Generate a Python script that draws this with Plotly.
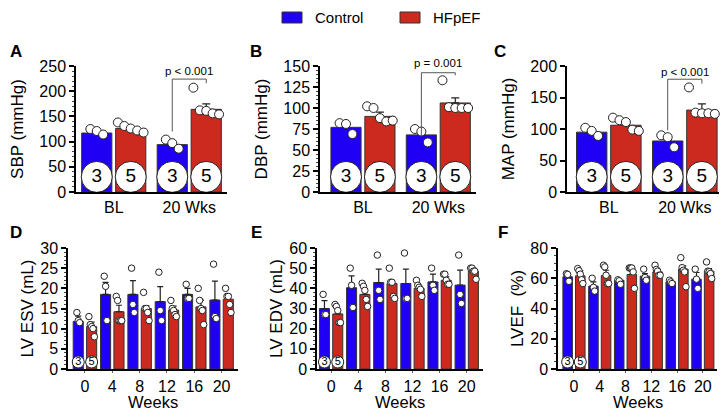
import numpy as np
import plotly.graph_objects as go

# page body has an 8px margin, so the figure is drawn 8px smaller and coords shifted
PAD = 8
W, H = 728 - PAD, 410 - PAD
CONTROL_COLOR = "#2000f5"
HFPEF_COLOR = "#cc2a1e"
FONT = "Liberation Sans, Arial, sans-serif"

# ---------------- data: blood pressure, BL vs 20 weeks ----------------
bp_groups = ["BL", "20 Wks"]
n_control, n_hfpef = 3, 5

sbp_ctrl_mean = [117, 94]
sbp_ctrl_sem = [5, 4]
sbp_hf_mean = [126, 164]
sbp_hf_sem = [4, 11]
sbp_ctrl_pts = [[125, 121, 114], [104, 97, 86]]
sbp_hf_pts = [[138, 131, 126, 122, 118], [207, 162, 161, 156, 154]]
sbp_bracket = [120, 224, 216]  # left end, top, right end
sbp_p = "p < 0.001"

dbp_ctrl_mean = [77, 68]
dbp_ctrl_sem = [3, 4]
dbp_hf_mean = [90, 106]
dbp_hf_sem = [5, 6]
dbp_ctrl_pts = [[82, 81, 69], [75, 72, 59]]
dbp_hf_pts = [[102, 100, 88, 84, 85], [133, 101, 100, 100, 100]]
dbp_bracket = [66, 142, 139]
dbp_p = "p = 0.001"

map_ctrl_mean = [95, 81]
map_ctrl_sem = [4, 6]
map_hf_mean = [106, 130]
map_hf_sem = [5, 10]
map_ctrl_pts = [[102, 97, 89], [90, 87, 71]]
map_hf_pts = [[118, 114, 111, 99, 97], [166, 126, 125, 125, 124]]
map_bracket = [98, 179, 172]
map_p = "p < 0.001"

# ---------------- data: echo, weeks 0-20 ----------------
weeks = ["0", "4", "8", "12", "16", "20"]

esv_ctrl_mean = [11.8, 18.5, 18.5, 16.7, 18.5, 17.1]
esv_ctrl_sem = [1.3, 3.0, 3.4, 3.7, 1.5, 4.7]
esv_hf_mean = [10.5, 14.2, 15.0, 14.6, 15.4, 17.3]
esv_hf_sem = [1.1, 1.6, 0.7, 1.0, 1.7, 1.2]
esv_ctrl_pts = [[14, 12, 11.5], [23, 20.5, 12], [25, 16, 14],
                [24, 14.5, 12], [21, 17.5, 17.5], [26, 13, 12.5]]
esv_hf_pts = [[13, 11, 10.5, 10, 8], [18, 17, 12, 12, 12], [19, 15, 15, 14, 12],
              [17, 15, 14.5, 13.5, 13], [20, 17, 15, 14.5, 11], [20, 18, 18, 16, 14]]

edv_ctrl_mean = [30, 40.3, 42.9, 42.4, 43.2, 41.6]
edv_ctrl_sem = [3.9, 5.9, 6.6, 7.1, 3.8, 7.4]
edv_hf_mean = [27.3, 37, 42.4, 40, 44, 48.5]
edv_hf_sem = [2.3, 2.6, 1.3, 1.0, 1.7, 1.5]
edv_ctrl_pts = [[37, 27, 27], [50, 41.5, 30.5], [56.5, 39, 34.5],
                [57.5, 35, 35], [50, 41.5, 39], [56.5, 37, 32.5]]
edv_hf_pts = [[32, 31, 29, 23, 23], [42.5, 41, 39, 34.5, 31], [50, 43, 43, 36, 35],
              [44, 41.5, 40.5, 39.5, 36], [47, 47, 44, 42, 42], [50, 50, 48.5, 48.5, 44.5]]

ef_ctrl_mean = [61, 54.8, 58.7, 61.4, 57.6, 59.4]
ef_ctrl_sem = [1.7, 2.8, 0.7, 1.6, 0.7, 4.4]
ef_hf_mean = [61.6, 61.8, 62.5, 64.2, 66, 64.7]
ef_hf_sem = [3.4, 3.5, 2.2, 1.8, 2.2, 1.7]
ef_ctrl_pts = [[63, 62.5, 58], [60, 54, 51.5], [59, 58.3, 56],
               [66, 60.5, 58.7], [58.7, 57.6, 56.5], [66, 59.4, 53.3]]
ef_hf_pts = [[66.4, 65, 62.7, 59, 56.5], [68.6, 67.5, 62, 56.5, 56.5], [66.8, 66.8, 66.8, 64.2, 53.3],
             [68.6, 65.8, 64.7, 62, 62], [73.6, 67, 65.3, 64.2, 54.4], [70.8, 64.7, 64.3, 63.1, 59.8]]


def fx(p):
    return (p - PAD) / W


def fy(p):
    return 1 - (p - PAD) / H


fig = go.Figure()
annotations = []
shapes = []


def add_panel(k, letter, letter_pos, xpx, ypx, xrange, ymax, dtick, minor, ytitle,
              cats, cm, cs, hm, hs, cp, hp, off, bw, dot, step, circ, circ_font,
              circ_frac, circ_cats, xtitle=None, standoff=12):
    xa = "x" if k == 1 else f"x{k}"
    ya = "y" if k == 1 else f"y{k}"
    idx = np.arange(len(cats))
    cap = 4 if bw > 0.38 else 3

    for means, sems, pts, color, name, sign in [
        (cm, cs, cp, CONTROL_COLOR, "Control", -1),
        (hm, hs, hp, HFPEF_COLOR, "HFpEF", 1),
    ]:
        xs = idx + sign * off
        fig.add_trace(go.Bar(
            x=xs, y=means, width=bw, name=name, showlegend=False,
            marker=dict(color=color, line=dict(color="#333333", width=1)),
            error_y=dict(type="data", symmetric=False, array=sems,
                         arrayminus=[0] * len(sems), color="#222222",
                         thickness=1.2, width=cap),
            xaxis=xa, yaxis=ya))
        dx, dy = [], []
        for xc, vals in zip(xs, pts):
            half = step * (len(vals) - 1) / 2
            offs = np.linspace(-half, half, len(vals))
            dx += list(xc + offs)
            dy += list(vals)
        fig.add_trace(go.Scatter(
            x=dx, y=dy, mode="markers", showlegend=False, cliponaxis=False,
            marker=dict(color="white", size=dot, line=dict(color="#222222", width=1)),
            xaxis=xa, yaxis=ya))
        nval = n_control if sign < 0 else n_hfpef
        fig.add_trace(go.Scatter(
            x=[xs[i] for i in circ_cats], y=[circ_frac * ymax] * len(circ_cats),
            mode="markers+text", text=[str(nval)] * len(circ_cats),
            textposition="middle center", showlegend=False,
            textfont=dict(family=FONT, size=circ_font, color="black"),
            marker=dict(color="white", size=circ, line=dict(color="#222222", width=1)),
            xaxis=xa, yaxis=ya))

    axis_common = dict(showline=True, linecolor="black", linewidth=1.5,
                       showgrid=False, zeroline=False, automargin=False,
                       tickfont=dict(family=FONT, size=16, color="black"))
    fig.layout[f"xaxis{'' if k == 1 else k}"] = dict(
        axis_common, domain=[fx(xpx[0]), fx(xpx[1])], range=xrange, anchor=ya,
        tickmode="array", tickvals=list(idx), ticktext=cats,
        ticks="outside" if xtitle else "", ticklen=2, tickwidth=1, tickcolor="#666666")
    fig.layout[f"yaxis{'' if k == 1 else k}"] = dict(
        axis_common, domain=[fy(ypx[1]), fy(ypx[0])], range=[0, ymax], anchor=xa,
        dtick=dtick, ticks="outside", ticklen=5, tickwidth=1.5, tickcolor="black",
        minor=dict(dtick=minor, ticks="outside", ticklen=2.5, tickwidth=1, tickcolor="#444444"),
        title=dict(text=ytitle, font=dict(family=FONT, size=17, color="black"),
                   standoff=standoff))
    if xtitle:
        # x title as an annotation: axis titles are squeezed inside the zero margin
        annotations.append(dict(text=xtitle, x=0.5, y=fy(402), xref=f"{xa} domain", yref="paper",
                                xanchor="center", yanchor="middle", showarrow=False,
                                font=dict(family=FONT, size=16.5, color="black")))
    annotations.append(dict(text=f"<b>{letter}</b>", x=fx(letter_pos[0]), y=fy(letter_pos[1]),
                            xref="paper", yref="paper", xanchor="left", yanchor="middle",
                            showarrow=False, font=dict(family=FONT, size=17, color="black")))
    return xa, ya


def add_bracket(xa, ya, off, ymax, br, ptext, ptext_y):
    x0, x1 = 1 - off, 1 + off
    shapes.append(dict(type="path", xref=xa, yref=ya,
                       path=f"M {x0},{br[0]} L {x0},{br[1]} L {x1},{br[1]} L {x1},{br[2]}",
                       line=dict(color="#555555", width=1)))
    annotations.append(dict(text=ptext, x=1, y=ptext_y / ymax, xref=xa, yref=f"{ya} domain",
                            xanchor="center", yanchor="middle", showarrow=False,
                            font=dict(family=FONT, size=11.5, color="black")))


top_y = (66, 192)
bot_y = (248, 369)

xa, ya = add_panel(1, "A", (8, 52), (76, 227), top_y, [-0.5, 1.5], 250, 50, 10, "SBP (mmHg)",
                   bp_groups, sbp_ctrl_mean, sbp_ctrl_sem, sbp_hf_mean, sbp_hf_sem,
                   sbp_ctrl_pts, sbp_hf_pts, 0.225, 0.4, 9, 0.085, 31, 19, 0.12, [0, 1],
                   standoff=11)
add_bracket(xa, ya, 0.225, 250, sbp_bracket, sbp_p, 241)

xa, ya = add_panel(2, "B", (248, 52), (320, 476), top_y, [-0.57, 1.5], 150, 25, 5, "DBP (mmHg)",
                   bp_groups, dbp_ctrl_mean, dbp_ctrl_sem, dbp_hf_mean, dbp_hf_sem,
                   dbp_ctrl_pts, dbp_hf_pts, 0.225, 0.4, 9, 0.085, 31, 19, 0.12, [0, 1],
                   standoff=11)
add_bracket(xa, ya, 0.225, 150, dbp_bracket, dbp_p, 153)

xa, ya = add_panel(3, "C", (492, 52), (567, 719), top_y, [-0.55, 1.45], 200, 50, 200, "MAP (mmHg)",
                   bp_groups, map_ctrl_mean, map_ctrl_sem, map_hf_mean, map_hf_sem,
                   map_ctrl_pts, map_hf_pts, 0.225, 0.4, 9, 0.085, 31, 19, 0.12, [0, 1],
                   standoff=11)
add_bracket(xa, ya, 0.225, 200, map_bracket, map_p, 190)

add_panel(4, "D", (8, 233), (68, 238), bot_y, [-0.62, 5.6], 30, 5, 1, "LV ESV (mL)",
          weeks, esv_ctrl_mean, esv_ctrl_sem, esv_hf_mean, esv_hf_sem,
          esv_ctrl_pts, esv_hf_pts, 0.245, 0.37, 6.5, 0.05, 12, 11, 0.058, [0],
          xtitle="Weeks", standoff=2)
add_panel(5, "E", (249, 233), (317, 483), bot_y, [-0.52, 5.6], 60, 10, 2, "LV EDV (mL)",
          weeks, edv_ctrl_mean, edv_ctrl_sem, edv_hf_mean, edv_hf_sem,
          edv_ctrl_pts, edv_hf_pts, 0.245, 0.37, 6.5, 0.05, 12, 11, 0.058, [0],
          xtitle="Weeks", standoff=2)
add_panel(6, "F", (496, 233), (558, 717), bot_y, [-0.62, 5.55], 80, 20, 5, "LVEF  (%)",
          weeks, ef_ctrl_mean, ef_ctrl_sem, ef_hf_mean, ef_hf_sem,
          ef_ctrl_pts, ef_hf_pts, 0.245, 0.37, 6.5, 0.05, 12, 11, 0.058, [0],
          xtitle="Weeks", standoff=2)

# legend drawn by hand (wide flat swatches like the original)
for x0, color, label in [(282, CONTROL_COLOR, "Control"), (400, HFPEF_COLOR, "HFpEF")]:
    shapes.append(dict(type="rect", xref="paper", yref="paper",
                       x0=fx(x0), x1=fx(x0 + 20), y0=fy(23), y1=fy(12),
                       fillcolor=color, line=dict(color="#333333", width=1)))
    annotations.append(dict(text=label, x=fx(x0 + 31), y=fy(17.5), xref="paper", yref="paper",
                            xanchor="left", yanchor="middle", showarrow=False,
                            font=dict(family=FONT, size=15, color="black")))

fig.update_layout(
    width=W, height=H, margin=dict(l=0, r=0, t=0, b=0),
    paper_bgcolor="white", plot_bgcolor="white",
    annotations=annotations, shapes=shapes, showlegend=False,
)

fig.write_html("out.html")
